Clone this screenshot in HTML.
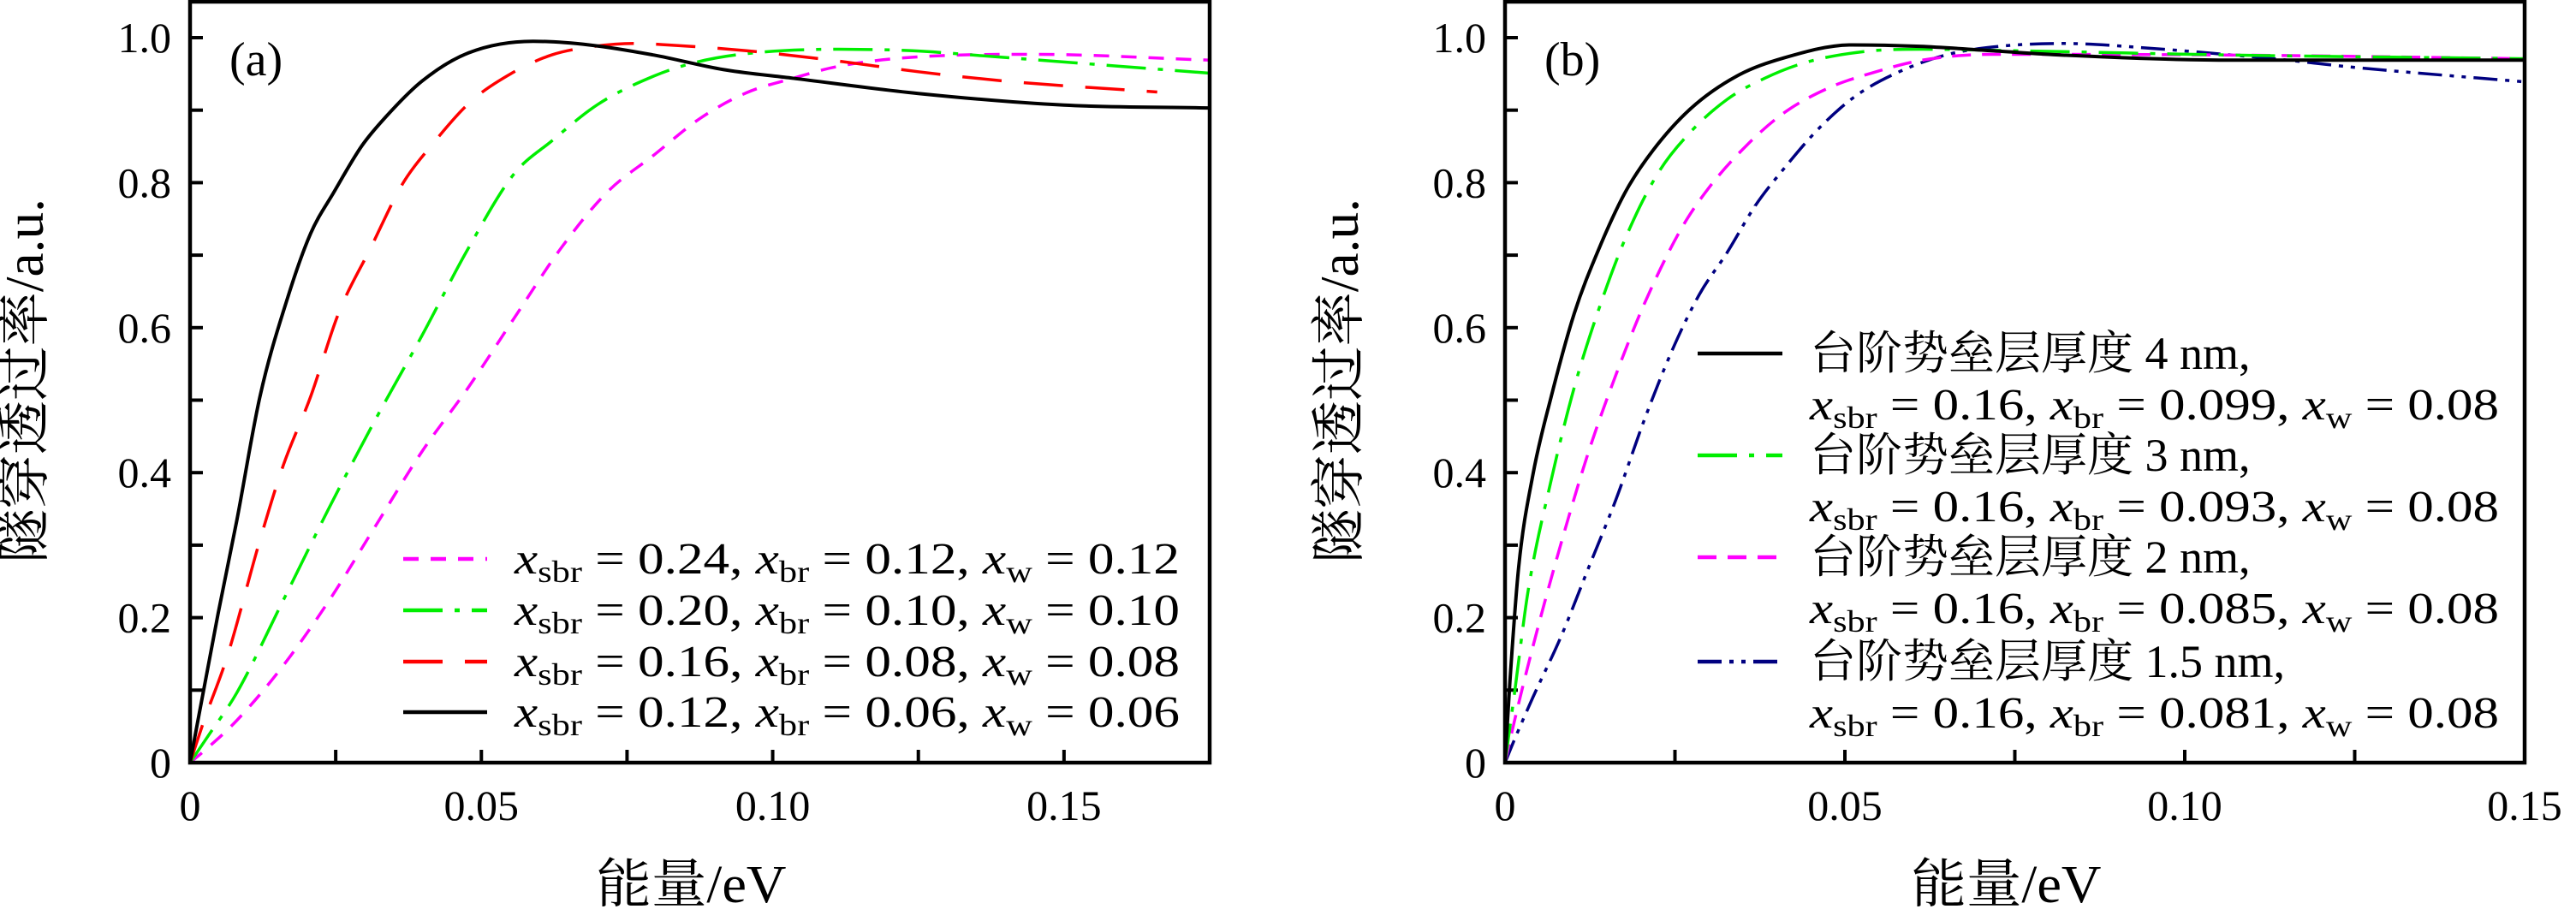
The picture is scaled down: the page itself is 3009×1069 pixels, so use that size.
<!DOCTYPE html>
<html><head><meta charset="utf-8"><style>
html,body{margin:0;padding:0;background:#fff;}
svg{display:block;font-family:"Liberation Serif","Noto Serif CJK SC",serif;}
</style></head><body>
<svg id="fig" width="3009" height="1069" viewBox="0 0 3009 1069" xmlns="http://www.w3.org/2000/svg"></svg>
<script>
// ---------- Panel (a) data ----------
const aBlackX=[0,0.0048,0.008,0.012,0.0167,0.0207,0.0247,0.0295,0.0334,0.0398,0.0478,0.0589,0.0685,0.0796,0.0915,0.1035,0.125,0.150,0.175];
const aBlackY=[0,0.205,0.333,0.505,0.64,0.73,0.787,0.851,0.889,0.94,0.979,0.995,0.99,0.976,0.956,0.944,0.923,0.907,0.903];
const aRedX=[0,0.0024,0.0064,0.012,0.016,0.0207,0.0255,0.031,0.0366,0.0414,0.0482,0.055,0.062,0.0685,0.0764,0.082,0.0955,0.11,0.125,0.14,0.166];
const aRedY=[0,0.058,0.147,0.307,0.41,0.505,0.62,0.71,0.80,0.851,0.912,0.95,0.976,0.987,0.992,0.99,0.982,0.969,0.953,0.94,0.925];
const aGreenX=[0,0.0032,0.008,0.016,0.0239,0.0318,0.0398,0.0478,0.0557,0.062,0.070,0.0796,0.0868,0.0955,0.111,0.124,0.136,0.175];
const aGreenY=[0,0.038,0.096,0.224,0.352,0.473,0.589,0.71,0.813,0.857,0.908,0.947,0.966,0.978,0.984,0.982,0.975,0.951];
const aMagX=[0,0.0024,0.008,0.016,0.0239,0.0318,0.0398,0.0478,0.0557,0.0637,0.0716,0.0796,0.0876,0.0955,0.1035,0.111,0.124,0.145,0.175];
const aMagY=[0,0.016,0.058,0.134,0.224,0.326,0.429,0.518,0.614,0.71,0.787,0.838,0.889,0.924,0.944,0.96,0.973,0.977,0.969];
// ---------- Panel (b) data ----------
const bBlackX=[0,0.0007,0.002,0.0041,0.0068,0.0102,0.0136,0.0177,0.0218,0.0273,0.0341,0.041,0.051,0.061,0.0716,0.082,0.107,0.125,0.150];
const bBlackY=[0,0.109,0.269,0.397,0.505,0.62,0.704,0.787,0.845,0.902,0.947,0.972,0.99,0.988,0.982,0.976,0.969,0.969,0.969];
const bGreenX=[0,0.0014,0.0034,0.0068,0.0102,0.0136,0.0177,0.0225,0.0273,0.0327,0.0382,0.0443,0.053,0.0614,0.075,0.107,0.150];
const bGreenY=[0,0.096,0.237,0.39,0.518,0.62,0.723,0.813,0.87,0.915,0.944,0.966,0.981,0.984,0.982,0.976,0.971];
const bMagX=[0,0.0014,0.0041,0.0082,0.0123,0.0164,0.0205,0.0259,0.030,0.0355,0.041,0.0477,0.0546,0.0614,0.0716,0.107,0.150];
const bMagY=[0,0.058,0.16,0.301,0.429,0.537,0.633,0.736,0.793,0.851,0.896,0.931,0.953,0.969,0.977,0.976,0.971];
const bNavyX=[0,0.0014,0.0041,0.0082,0.0123,0.0164,0.0205,0.0246,0.0286,0.0327,0.0368,0.041,0.0464,0.0518,0.058,0.0648,0.0716,0.082,0.0955,0.107,0.113,0.125,0.150];
const bNavyY=[0,0.032,0.09,0.173,0.269,0.365,0.473,0.569,0.646,0.704,0.768,0.819,0.877,0.921,0.953,0.976,0.987,0.992,0.985,0.976,0.971,0.959,0.939];
const yTicks=[0,0.2,0.4,0.6,0.8,1.0];
const yTickLabels=["0","0.2","0.4","0.6","0.8","1.0"];
const aXTicks=[0,0.05,0.10,0.15];
const bXTicks=[0,0.05,0.10,0.15];
const xTickLabels=["0","0.05","0.10","0.15"];
const aLegend=[["0.24","0.12","0.12"],["0.20","0.10","0.10"],["0.16","0.08","0.08"],["0.12","0.06","0.06"]];
const bLegendThick=["4","3","2","1.5"];
const bLegendBr=["0.099","0.093","0.085","0.081"];

const NS="http://www.w3.org/2000/svg";
const svg=document.getElementById('fig');
function el(tag,attrs,parent){const e=document.createElementNS(NS,tag);for(const k in attrs)e.setAttribute(k,attrs[k]);(parent||svg).appendChild(e);return e;}

const Y0=891, Y1=44;
function yS(v){return Y0+(Y1-Y0)*v;}
function makeX(x0,x1,vmax){return v=>x0+(x1-x0)*v/vmax;}

function smoothPath(xs,ys,sx){
  const px=xs.map(sx), py=ys.map(yS);const n=px.length;
  const d=[],m=[];
  for(let i=0;i<n-1;i++)d.push((py[i+1]-py[i])/(px[i+1]-px[i]));
  m[0]=d[0];m[n-1]=d[n-2];
  for(let i=1;i<n-1;i++){m[i]=(d[i-1]*d[i]<=0)?0:(d[i-1]+d[i])/2;}
  for(let i=0;i<n-1;i++){if(d[i]===0){m[i]=0;m[i+1]=0;continue;}const a=m[i]/d[i],b=m[i+1]/d[i];const s=a*a+b*b;if(s>9){const t=3/Math.sqrt(s);m[i]=t*a*d[i];m[i+1]=t*b*d[i];}}
  let p=`M${px[0]},${py[0]}`;
  for(let i=0;i<n-1;i++){const h=px[i+1]-px[i];p+=` C${px[i]+h/3},${py[i]+m[i]*h/3} ${px[i+1]-h/3},${py[i+1]-m[i+1]*h/3} ${px[i+1]},${py[i+1]}`;}
  return p;
}

function panel(name,L,R,vmax,xTicks,minorStep,label,labelX){
  const sx=makeX(L,R,vmax);
  const g=el('g',{});
  
  
  for(let v=0;v<=1.0001;v+=0.1){const t=el('line',{x1:L,x2:L+15,y1:yS(v),y2:yS(v),stroke:'#000','stroke-width':4},g);
    }
  for(let v=0;v<=vmax+1e-9;v+=minorStep){const t=el('line',{x1:sx(v),x2:sx(v),y1:Y0,y2:Y0-15,stroke:'#000','stroke-width':4},g);
    }
  yTicks.forEach((v,i)=>{const t=el('text',{x:L-22,y:yS(v)+17,'font-size':50,'text-anchor':'end'},g);t.textContent=yTickLabels[i];
    });
  xTicks.forEach((v,i)=>{const t=el('text',{x:sx(v),y:958,'font-size':50,'text-anchor':'middle'},g);t.textContent=xTickLabels[i];
    });
  const xt=el('text',{x:(L+R)/2-10,y:1054,'font-size':62,'text-anchor':'middle',textLength:222,lengthAdjust:'spacingAndGlyphs'},g);xt.textContent='能量/eV';
  
  const yt=el('text',{x:0,y:0,'font-size':64,'text-anchor':'middle',textLength:426,lengthAdjust:'spacingAndGlyphs',transform:`translate(${L-172},445) rotate(-90)`},g);yt.textContent='隧穿透过率/a.u.';
  
  const pl=el('text',{x:labelX,y:88,'font-size':56},g);pl.textContent=label;
  
  return {g,sx};
}
function frame(g,L,R){const f=el('rect',{x:L,y:2,width:R-L,height:Y0-2,fill:'none',stroke:'#000','stroke-width':4.5},g);
  }
function curve(g,xs,ys,sx,color,dash,w,name){
  const p=el('path',{d:smoothPath(xs,ys,sx),fill:'none',stroke:color,'stroke-width':w||3.5,'stroke-dasharray':dash||'none'},g);
  }
function legLine(g,x1,x2,y,color,dash,name){const l=el('line',{x1,x2,y1:y,y2:y,stroke:color,'stroke-width':4.5,'stroke-dasharray':dash||'none'},g);
  }
function formula(g,x,y,vals,width,name){
  const t=el('text',{x,y,'font-size':52,textLength:width,lengthAdjust:'spacingAndGlyphs'},g);
  
  t.innerHTML=`<tspan font-style="italic">x</tspan><tspan font-size="36" dy="10">sbr</tspan><tspan dy="-10"> = ${vals[0]}, </tspan><tspan font-style="italic">x</tspan><tspan font-size="36" dy="10">br</tspan><tspan dy="-10"> = ${vals[1]}, </tspan><tspan font-style="italic">x</tspan><tspan font-size="36" dy="10">w</tspan><tspan dy="-10"> = ${vals[2]}</tspan>`;
}

const MAG='#ff00ff',GRN='#00ee00',RED='#ff0000',NAVY='#000080';
const D_MAG='18 14',D_GRN='46 14 6 14',D_RED='46 26',D_NAVY='28 9 5 9 5 9',D_MAGB='22 13';

const A=panel('panel-a',222,1413,0.175,aXTicks,0.025,'(a)',268);
curve(A.g,aMagX,aMagY,A.sx,MAG,D_MAG,3.5,'curve-xsbr-0.24');
curve(A.g,aGreenX,aGreenY,A.sx,GRN,D_GRN,3.5,'curve-xsbr-0.20');
curve(A.g,aRedX,aRedY,A.sx,RED,D_RED,3.5,'curve-xsbr-0.16');
curve(A.g,aBlackX,aBlackY,A.sx,'#000','none',4,'curve-xsbr-0.12');
frame(A.g,222,1413);
const aRows=[653,713,773,832],aCols=[MAG,GRN,RED,'#000'],aDash=[D_MAG,D_GRN,D_RED,'none'];
aLegend.forEach((v,i)=>{legLine(A.g,471,569,aRows[i],aCols[i],aDash[i],'legend-line');formula(A.g,601,aRows[i]+17,v,777,'legend-entry');});

const B=panel('panel-b',1758,2949,0.15,bXTicks,0.025,'(b)',1804);
curve(B.g,bNavyX,bNavyY,B.sx,NAVY,D_NAVY,3.5,'curve-1.5nm');
curve(B.g,bMagX,bMagY,B.sx,MAG,D_MAGB,3.5,'curve-2nm');
curve(B.g,bGreenX,bGreenY,B.sx,GRN,D_GRN,3.5,'curve-3nm');
curve(B.g,bBlackX,bBlackY,B.sx,'#000','none',4,'curve-4nm');
frame(B.g,1758,2949);
const bRows=[413,532,651,773],bCols=['#000',GRN,MAG,NAVY],bDash=['none',D_GRN,D_MAGB,D_NAVY];
bLegendThick.forEach((th,i)=>{
  legLine(B.g,1983,2082,bRows[i],bCols[i],bDash[i],'legend-line');
  const t=el('text',{x:2114,y:bRows[i]+18,'font-size':54},B.g);
  
  t.textContent=`台阶势垒层厚度 ${th} nm,`;
  formula(B.g,2114,bRows[i]+77,['0.16',bLegendBr[i],'0.08'],805,'legend-formula');
});
</script>
</body></html>
